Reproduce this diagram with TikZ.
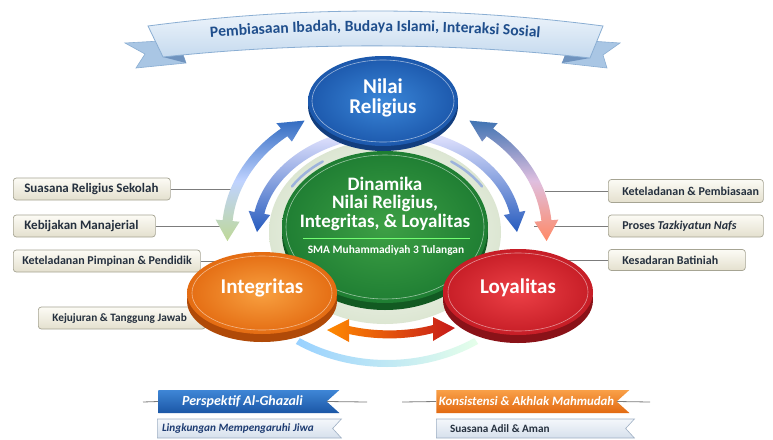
\documentclass[tikz,border=0pt]{standalone}
\usepackage{fontspec}
\setmainfont{Carlito}
\usetikzlibrary{calc,shapes.geometric,shapes.symbols,shadows,decorations.text}
\definecolor{bannerTxt}{HTML}{1F4E8C}
\definecolor{bannerTop}{HTML}{F3F8FD}
\definecolor{bannerBot}{HTML}{C4D9EE}
\definecolor{bannerDraw}{HTML}{8AAED3}
\definecolor{tailC}{HTML}{A9C6E4}
\definecolor{foldC}{HTML}{6F93BE}
\definecolor{nilaiIn}{HTML}{3A86D8}
\definecolor{nilaiOut}{HTML}{1C58AC}
\definecolor{nilaiSh}{HTML}{123E7E}
\definecolor{hijauIn}{HTML}{3DA045}
\definecolor{hijauOut}{HTML}{1F7E33}
\definecolor{hijauSh}{HTML}{125A22}
\definecolor{oranyeIn}{HTML}{F8A040}
\definecolor{oranyeOut}{HTML}{E46C12}
\definecolor{oranyeSh}{HTML}{B04A08}
\definecolor{merahIn}{HTML}{EC4046}
\definecolor{merahOut}{HTML}{C61D26}
\definecolor{merahSh}{HTML}{8A1218}
\definecolor{lblTop}{HTML}{FCFBF5}
\definecolor{lblBot}{HTML}{E4E0CE}
\definecolor{lblDraw}{HTML}{A6A493}
\definecolor{lblTxt}{HTML}{25303E}
\definecolor{connC}{HTML}{7C7C7C}
\definecolor{tagBlueTop}{HTML}{3F86D6}
\definecolor{tagBlueBot}{HTML}{1B57A6}
\definecolor{tagOrTop}{HTML}{F9A048}
\definecolor{tagOrBot}{HTML}{E26A12}
\definecolor{boxTop}{HTML}{F4F7FB}
\definecolor{boxBot}{HTML}{D6E0EC}
\definecolor{boxDraw}{HTML}{9FB0C4}
\definecolor{boxTxt}{HTML}{1E3C72}
\definecolor{haloIn}{HTML}{FFFFFF}
\definecolor{haloOut}{HTML}{DCE6D2}
\definecolor{arcLine}{HTML}{9DB3DC}
\newcommand{\lbltext}[2]{\makebox[#1][l]{#2}}
% double-headed elliptical band: #1 shade opts, #2 centre, #3 rx, #4 ry, #5 tipA, #6 tipB, #7 half shaft, #8 half head, #9 head angle (signed)
\newcommand{\dband}[9]{%
  \pgfmathsetmacro\bxo{#3+#7}\pgfmathsetmacro\byo{#4+#7}%
  \pgfmathsetmacro\bxi{#3-#7}\pgfmathsetmacro\byi{#4-#7}%
  \pgfmathsetmacro\hxo{#3+#8}\pgfmathsetmacro\hyo{#4+#8}%
  \pgfmathsetmacro\hxi{#3-#8}\pgfmathsetmacro\hyi{#4-#8}%
  \pgfmathsetmacro\ta{#5+#9}\pgfmathsetmacro\tb{#6-#9}%
  \shade[#1] ($(#2)+(\ta:\bxo pt and \byo pt)$) arc[start angle=\ta, end angle=\tb, x radius=\bxo pt, y radius=\byo pt]
   -- ($(#2)+(\tb:\hxo pt and \hyo pt)$) -- ($(#2)+(#6:#3pt and #4pt)$) -- ($(#2)+(\tb:\hxi pt and \hyi pt)$)
   -- ($(#2)+(\tb:\bxi pt and \byi pt)$) arc[start angle=\tb, end angle=\ta, x radius=\bxi pt, y radius=\byi pt]
   -- ($(#2)+(\ta:\hxi pt and \hyi pt)$) -- ($(#2)+(#5:#3pt and #4pt)$) -- ($(#2)+(\ta:\hxo pt and \hyo pt)$) -- cycle;}
% single-headed: tail at #5, tip at #6
\newcommand{\sband}[9]{%
  \pgfmathsetmacro\bxo{#3+#7}\pgfmathsetmacro\byo{#4+#7}%
  \pgfmathsetmacro\bxi{#3-#7}\pgfmathsetmacro\byi{#4-#7}%
  \pgfmathsetmacro\hxo{#3+#8}\pgfmathsetmacro\hyo{#4+#8}%
  \pgfmathsetmacro\hxi{#3-#8}\pgfmathsetmacro\hyi{#4-#8}%
  \pgfmathsetmacro\tb{#6-#9}%
  \shade[#1] ($(#2)+(#5:\bxo pt and \byo pt)$) arc[start angle=#5, end angle=\tb, x radius=\bxo pt, y radius=\byo pt]
   -- ($(#2)+(\tb:\hxo pt and \hyo pt)$) -- ($(#2)+(#6:#3pt and #4pt)$) -- ($(#2)+(\tb:\hxi pt and \hyi pt)$)
   -- ($(#2)+(\tb:\bxi pt and \byi pt)$) arc[start angle=\tb, end angle=#5, x radius=\bxi pt, y radius=\byi pt] -- cycle;}
\begin{document}
\begin{tikzpicture}[x=1pt,y=-1pt,
  lbl/.style={draw=lblDraw, line width=.7pt, rounded corners=3pt, top color=lblTop, bottom color=lblBot,
    font=\bfseries\fontsize{12.5}{14}\selectfont, text=lblTxt, inner ysep=0pt, minimum height=22pt, anchor=west},
  conn/.style={draw=connC, line width=.8pt},
  ell/.style={ellipse, inner sep=0pt, draw=none},
  bigtxt/.style={anchor=base, text=white, font=\bfseries\fontsize{21}{22}\selectfont, inner sep=0pt},
  midtxt/.style={anchor=base, text=white, font=\bfseries\fontsize{19}{20}\selectfont, inner sep=0pt},
  tag/.style={signal, signal to=nowhere, signal from=east, signal pointer angle=84, inner sep=0pt,
    minimum height=23pt, text=white, font=\bfseries\itshape\fontsize{14}{16}\selectfont},
  subbox/.style={signal, signal to=nowhere, signal from=east, signal pointer angle=95, inner sep=0pt,
    minimum height=19pt, draw=boxDraw, line width=.6pt, top color=boxTop, bottom color=boxBot,
    font=\bfseries\fontsize{11.2}{13}\selectfont}
]
\useasboundingbox (0,0) rectangle (773,439);
\fill[white] (0,0) rectangle (773,439);

% ---------- banner ----------
\filldraw[fill=tailC, draw=bannerDraw, line width=.6pt] (178,40) -- (125,43) -- (145,54) -- (136,68) -- (186,63) -- cycle;
\fill[foldC] (163,57) -- (186,63) -- (182,52) -- cycle;
\filldraw[fill=tailC, draw=bannerDraw, line width=.6pt] (575,40) -- (620,43) -- (603,55) -- (607,68) -- (562,63) -- cycle;
\fill[foldC] (590,58) -- (562,63) -- (566,52) -- cycle;
\shade[top color=bannerTop, bottom color=bannerBot, draw=bannerDraw, line width=.8pt]
  (148,26) .. controls (300,6) and (450,6) .. (603,26) -- (590,58) .. controls (450,42) and (300,42) .. (163,57) -- cycle;
\path[decorate, decoration={text along path, text align=center,
  text={|\bfseries\fontsize{15.6}{18}\selectfont\color{bannerTxt}|Pembiasaan Ibadah, Budaya Islami, Interaksi Sosial}}]
  (150,43) .. controls (300,27) and (450,27) .. (600,43);

% ---------- side labels ----------
\node[lbl, inner xsep=11pt, font=\bfseries\fontsize{13}{14}\selectfont] (l1) at (13,189) {\lbltext{135pt}{Suasana Religius Sekolah}};
\node[lbl, inner xsep=11pt, font=\bfseries\fontsize{13}{14}\selectfont] (l2) at (13,226) {\lbltext{120pt}{Kebijakan Manajerial}};
\node[lbl, inner xsep=9pt, font=\bfseries\fontsize{12}{14}\selectfont] (l3) at (13,261) {\lbltext{169pt}{Keteladanan Pimpinan \& Pendidik}};
\node[lbl, inner xsep=14pt, font=\bfseries\fontsize{11.3}{14}\selectfont] (l4) at (38,318) {\lbltext{139pt}{Kejujuran \& Tanggung Jawab}};
\node[lbl, inner xsep=14pt, font=\bfseries\fontsize{12}{14}\selectfont, minimum height=23pt] (r1) at (608,191) {\lbltext{127pt}{Keteladanan \& Pembiasaan}};
\node[lbl, inner xsep=14pt, font=\bfseries\fontsize{12}{14}\selectfont] (r2) at (608,226) {\lbltext{127pt}{Proses \textit{Tazkiyatun Nafs}}};
\node[lbl, inner xsep=14pt, font=\bfseries\fontsize{12}{14}\selectfont, minimum height=21pt] (r3) at (608,260) {\lbltext{109pt}{Kesadaran Batiniah}};

\coordinate (aL1) at (232,189);
\coordinate (aL2) at (236,226);
\coordinate (iL3) at (216,261);
\coordinate (aR1) at (545,191);
\coordinate (aR2) at (534,226);
\coordinate (lR3) at (566,260);
\draw[conn] (l1.east) -- (aL1);
\draw[conn] (l2.east) -- (aL2);
\draw[conn] (l3.east) -- (iL3);
\draw[conn] (aR1) -- (r1.west);
\draw[conn] (aR2) -- (r2.west);
\draw[conn] (lR3) -- (r3.west);

% ---------- halo and cycle arrows ----------
\coordinate (ac) at (387,232);
\shade[inner color=haloIn, outer color=haloOut] (385,232) ellipse[x radius=116pt, y radius=92pt];

\dband{top color=blue!60!cyan!70!black!80, bottom color=green!40!yellow!30!white!85!black, middle color=cyan!30!blue!25!white}{ac}{160}{130}{121}{184}{5}{12}{9}
\dband{top color=blue!55!cyan!60!black!75, bottom color=red!55!orange!60!white, middle color=violet!25!white}{ac}{160}{130}{-4}{59}{5}{12}{9}
\sband{top color=blue!10!white, bottom color=blue!65!cyan!70!black!85}{ac}{130}{100}{108}{180}{5}{11}{11}
\sband{top color=blue!10!white, bottom color=blue!65!cyan!70!black!85}{ac}{130}{100}{72}{0}{5}{11}{-11}
\draw[arcLine, line width=2.5pt, line cap=round] ($(ac)+(125:112pt and 86pt)$) arc[start angle=125, end angle=148, x radius=112pt, y radius=86pt];
\draw[arcLine, line width=2.5pt, line cap=round] ($(ac)+(32:112pt and 86pt)$) arc[start angle=32, end angle=55, x radius=112pt, y radius=86pt];
\shade[left color=blue!45!cyan!40!white, right color=cyan!15!green!10!white]
  ($(ac)+(236:163pt and 135pt)$) arc[start angle=236, end angle=304, x radius=163pt, y radius=135pt]
  -- ($(ac)+(304:156pt and 128pt)$) arc[start angle=304, end angle=236, x radius=156pt, y radius=128pt] -- cycle;

% ---------- ellipses ----------
\node[ell, minimum width=206pt, minimum height=152pt, inner color=hijauIn, outer color=hijauOut,
  drop shadow={shadow xshift=0pt, shadow yshift=-7pt, shadow scale=1, fill=hijauSh, opacity=1}] (pusat) at (385,227) {};
\draw[white, opacity=.55, line width=.6pt] (pusat.center) ellipse[x radius=99pt, y radius=72pt];
\node[ell, minimum width=150pt, minimum height=90pt, inner color=nilaiIn, outer color=nilaiOut,
  drop shadow={shadow xshift=0pt, shadow yshift=-5pt, shadow scale=1, fill=nilaiSh, opacity=1}] (nilai) at (383,101) {};
\draw[white, opacity=.55, line width=.6pt] (nilai.center) ellipse[x radius=71pt, y radius=41pt];
\node[ell, minimum width=150pt, minimum height=82pt, inner color=oranyeIn, outer color=oranyeOut,
  drop shadow={shadow xshift=0pt, shadow yshift=-8pt, shadow scale=1, fill=oranyeSh, opacity=1}] (integ) at (262,293) {};
\draw[white, opacity=.5, line width=.6pt] (integ.center) ellipse[x radius=70pt, y radius=37pt];
\node[ell, minimum width=150pt, minimum height=86pt, inner color=merahIn, outer color=merahOut,
  drop shadow={shadow xshift=0pt, shadow yshift=-8pt, shadow scale=1, fill=merahSh, opacity=1}] (loyal) at (518,292) {};
\draw[white, opacity=.5, line width=.6pt] (loyal.center) ellipse[x radius=70pt, y radius=39pt];

% bottom double arrow
\shade[left color=orange!80!yellow!90!red, right color=red!75!black!90!white]
  (327,330) -- (349,319) -- (349,326) .. controls (375,332) and (407,332) .. (433,325) -- (433,317) -- (455,328)
  -- (433,341) -- (433,333) .. controls (407,340) and (375,340) .. (349,334) -- (349,342) -- cycle;

% ---------- texts ----------
\node[bigtxt] (tNilai) at (383,93) {Nilai};
\node[bigtxt] (tReli) at (383,113) {Religius};
\node[midtxt] (tD1) at (385,190) {Dinamika};
\node[midtxt] (tD2) at (385,208.5) {Nilai Religius,};
\node[midtxt] (tD3) at (385,227) {Integritas, \& Loyalitas};
\draw[green!55!white, line width=.6pt] (303,238) -- (470,238);
\node[anchor=base, text=white, font=\bfseries\fontsize{11.4}{13}\selectfont, inner sep=0pt] (tSMA) at (386,253) {SMA Muhammadiyah 3 Tulangan};
\node[bigtxt] (tInt) at (262,293) {Integritas};
\node[bigtxt] (tLoy) at (518,293) {Loyalitas};

% ---------- bottom tags ----------
\node[tag, minimum width=181pt, top color=tagBlueTop, bottom color=tagBlueBot] (tagL) at (242.5,401.5) {Perspektif Al-Ghazali};
\node[tag, minimum width=193pt, top color=tagOrTop, bottom color=tagOrBot, font=\bfseries\itshape\fontsize{12.8}{15}\selectfont] (tagR) at (526.5,401.5) {Konsistensi \& Akhlak Mahmudah};
\coordinate (tl0) at (143,402);
\coordinate (tl1) at (367,402);
\coordinate (tr0) at (402,402);
\coordinate (tr1) at (650,402);
\draw[conn] (tl0) -- (tagL.west);
\draw[conn] (tagL.east) -- (tl1);
\draw[conn] (tr0) -- (tagR.west);
\draw[conn] (tagR.east) -- (tr1);
\node[subbox, minimum width=184pt, text=boxTxt, font=\bfseries\itshape\fontsize{11.2}{13}\selectfont] (boxL) at (245,428.5) {\lbltext{166pt}{Lingkungan Mempengaruhi Jiwa}};
\node[subbox, minimum width=198pt, text=lblTxt] (boxR) at (531,428.5) {\lbltext{162pt}{Suasana Adil \& Aman}};
\end{tikzpicture}
\end{document}
